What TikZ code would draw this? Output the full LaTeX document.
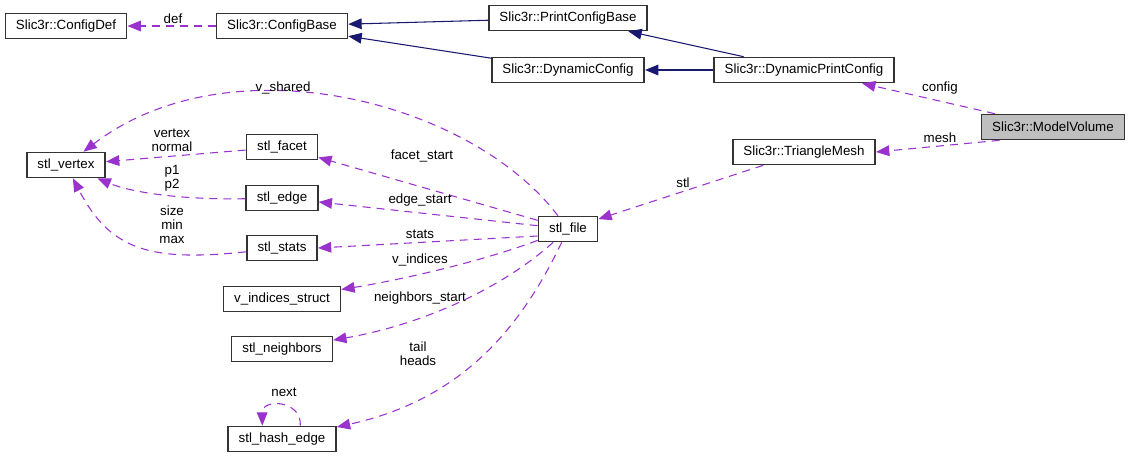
\documentclass[tikz,border=0pt]{standalone}
\usepackage{fontspec}
\setmainfont{Liberation Sans}
\usepackage{tikz}
\usetikzlibrary{arrows.meta}
\usepackage{xcolor}
\definecolor{edgenavy}{RGB}{25,25,112}
\definecolor{edgeorchid}{RGB}{154,50,205}
\definecolor{boxborder}{RGB}{51,51,51}
\definecolor{focusgray}{RGB}{191,191,191}

\tikzset{
  cls/.style={draw=boxborder, fill=white, line width=1.2pt, minimum height=18.75pt,
    inner xsep=8pt, inner ysep=0pt, font=\fontsize{10}{12}\selectfont},
  lbl/.style={inner sep=0pt, align=center, font=\fontsize{10}{10.5}\selectfont},
  inherit/.style={draw=edgenavy, line width=0.8pt, -{Triangle[length=10pt,width=8pt]}},
  member/.style={draw=edgeorchid, line width=0.8pt, dash pattern=on 6pt off 4.5pt,
    -{Triangle[length=10pt,width=8pt]}}
}

\begin{document}
\begin{tikzpicture}[x=0.75pt,y=-0.75pt]
  \useasboundingbox (0,0) rectangle (1131,457);

  % Config classes
  \node[cls] (configdef) at (66,26) {Slic3r::ConfigDef};
  \node[cls] (configbase) at (282,26) {Slic3r::ConfigBase};
  \node[cls] (printconfigbase) at (568,18) {Slic3r::PrintConfigBase};
  \node[cls] (dynconfig) at (568,70) {Slic3r::DynamicConfig};
  \node[cls] (dynprintconfig) at (804,70) {Slic3r::DynamicPrintConfig};
  \node[cls, fill=focusgray] (modelvolume) at (1053,127) {Slic3r::ModelVolume};
  \node[cls] (trianglemesh) at (804,152) {Slic3r::TriangleMesh};

  % stl structs
  \node[cls] (stlfile) at (568,229) {stl\_file};
  \node[cls] (stlvertex) at (66,165) {stl\_vertex};
  \node[cls] (stlfacet) at (282,147) {stl\_facet};
  \node[cls] (stledge) at (282,198) {stl\_edge};
  \node[cls] (stlstats) at (282,248) {stl\_stats};
  \node[cls] (vindices) at (282,299) {v\_indices\_struct};
  \node[cls] (stlneighbors) at (282,349) {stl\_neighbors};
  \node[cls] (stlhashedge) at (282,439) {stl\_hash\_edge};

  % Inheritance
  \draw[inherit] (printconfigbase) -- (configbase);
  \draw[inherit] (dynconfig) -- (configbase);
  \draw[inherit] (dynprintconfig) -- (printconfigbase);
  \draw[inherit] (dynprintconfig) -- (dynconfig);

  % Members
  \draw[member] (configbase) -- (configdef);
  \draw[member] (modelvolume) -- (dynprintconfig);
  \draw[member] (modelvolume.194) -- (trianglemesh.east);
  \draw[member] (trianglemesh) -- (stlfile);
  \draw[member] (stlfile) .. controls (470,100) and (230,40) .. (stlvertex);
  \draw[member] (stlfile) -- (stlfacet);
  \draw[member] (stlfile) -- (stledge);
  \draw[member] (stlfile.193) -- (stlstats.east);
  \draw[member] (stlfile) .. controls (480,262) and (400,280) .. (vindices);
  \draw[member] (stlfile) .. controls (500,290) and (420,325) .. (stlneighbors);
  \draw[member] (stlfile) .. controls (520,330) and (460,400) .. (stlhashedge);
  \draw[member] (stlfacet) -- (stlvertex);
  \draw[member] (stledge) .. controls (180,200) and (130,192) .. (stlvertex);
  \draw[member] (stlstats) .. controls (150,262) and (110,250) .. (stlvertex);
  \draw[member] (stlhashedge.36) .. controls (302,400) and (262,398) .. (stlhashedge.146);

  % Labels
  \node[lbl] (l_def) at (173,19) {def};
  \node[lbl] (l_config) at (940,88) {config};
  \node[lbl] (l_mesh) at (940,138) {mesh};
  \node[lbl] (l_stl) at (683,183) {stl};
  \node[lbl] (l_vshared) at (283,88) {v\_shared};
  \node[lbl] (l_vertex) at (172,140) {vertex\\normal};
  \node[lbl] (l_p) at (172,178) {p1\\p2};
  \node[lbl] (l_size) at (172,225) {size\\min\\max};
  \node[lbl] (l_facet) at (422,156) {facet\_start};
  \node[lbl] (l_edge) at (420,200) {edge\_start};
  \node[lbl] (l_stats) at (420,234) {stats};
  \node[lbl] (l_vind) at (420,260) {v\_indices};
  \node[lbl] (l_neigh) at (420,298) {neighbors\_start};
  \node[lbl] (l_tail) at (418,354) {tail\\heads};
  \node[lbl] (l_next) at (284,392) {next};
\end{tikzpicture}
\end{document}
